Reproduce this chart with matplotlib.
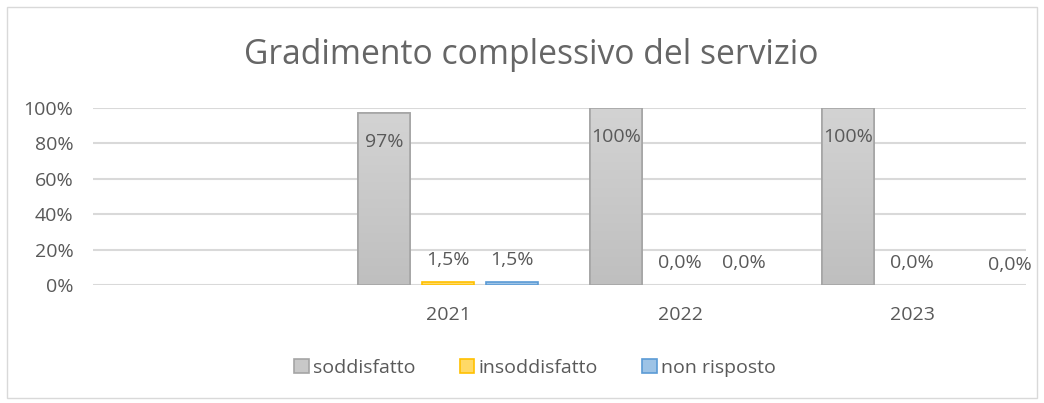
import matplotlib.pyplot as plt
import numpy as np
from matplotlib.colors import LinearSegmentedColormap
from matplotlib.patches import Rectangle

categories = ['', '2021', '2022', '2023']
series = ['soddisfatto', 'insoddisfatto', 'non risposto']
soddisfatto = [np.nan, 0.97, 1.00, 1.00]
insoddisfatto = [np.nan, 0.015, 0.0, 0.0]
non_risposto = [np.nan, 0.015, 0.0, 0.0]
labels_sodd = ['', '97%', '100%', '100%']
labels_ins = ['', '1,5%', '0,0%', '0,0%']
labels_non = ['', '1,5%', '0,0%', '0,0%']

plt.rcParams['font.family'] = ['Open Sans', 'DejaVu Sans']
txt = '#595959'

fig = plt.figure(figsize=(10.44, 4.03), dpi=100)
fig.patches.append(Rectangle((7/1044, 1-398/403), 1030/1044, 391/403, transform=fig.transFigure,
                             fill=False, edgecolor='#d9d9d9', linewidth=1))
ax = fig.add_axes([93/1044, 1-285/403, 933/1044, 177/403])

x = np.arange(len(categories))
w = 0.224
off = 0.276
b1 = ax.bar(x - off, soddisfatto, w, color='#c8c8c8', edgecolor='#a5a5a5', linewidth=1.2, zorder=2)
b2 = ax.bar(x, insoddisfatto, w, color='#ffd966', edgecolor='#ffc000', linewidth=1.2, zorder=2)
b3 = ax.bar(x + off, non_risposto, w, color='#9dc3e6', edgecolor='#5b9bd5', linewidth=1.2, zorder=2)
for bars in (b2, b3):
    for r in bars:
        if r.get_height() == 0:
            r.set_visible(False)

# gradient fill for the grey bars
cmap = LinearSegmentedColormap.from_list('g', ['#bfbfbf', '#d3d3d3'])
grad = np.linspace(0, 1, 100).reshape(-1, 1)
for r in b1:
    h = r.get_height()
    if np.isnan(h):
        continue
    im = ax.imshow(grad, extent=[r.get_x(), r.get_x() + r.get_width(), 0, h], origin='lower',
                   cmap=cmap, aspect='auto', zorder=2.5)
    im.set_clip_path(r)
    ax.add_patch(Rectangle((r.get_x(), 0), r.get_width(), h, fill=False,
                           edgecolor='#a5a5a5', linewidth=1.2, zorder=3))

for r, lab in zip(b1, labels_sodd):
    if lab:
        ax.annotate(lab, (r.get_x() + r.get_width() / 2, r.get_height()), xytext=(0, -29),
                    textcoords='offset pixels', ha='center', va='center', fontsize=14, color=txt, zorder=4)
for bars, labs in ((b2, labels_ins), (b3, labels_non)):
    for i, (r, lab) in enumerate(zip(bars, labs)):
        if lab:
            dx = 34 if (bars is b3 and i == 3) else 0
            dy = 22 if not (bars is b3 and i == 3) else 20
            ax.annotate(lab, (r.get_x() + r.get_width() / 2, r.get_height()), xytext=(dx, dy),
                        textcoords='offset pixels', ha='center', va='center', fontsize=14, color=txt, zorder=4)

ax.set_xlim(-0.53, 3.491)
ax.set_ylim(0, 1.0)
ax.set_yticks(np.arange(0, 1.01, 0.2))
ax.set_yticklabels([f'{int(round(v*100))}%' for v in np.arange(0, 1.01, 0.2)])
ax.set_xticks(x)
ax.set_xticklabels(categories)
ax.tick_params(axis='both', length=0, labelsize=14, colors=txt)
ax.tick_params(axis='x', pad=15)
ax.tick_params(axis='y', pad=14)
ax.grid(axis='y', color='#d9d9d9', linewidth=1.5, zorder=0)
ax.set_axisbelow(True)
for s in ax.spines.values():
    s.set_visible(False)

fig.text(531/1044, 1 - 55/403, 'Gradimento complessivo del servizio', ha='center', va='center',
         fontsize=24.2, color='#666666')

leg = fig.legend([b1, b2, b3], series, loc='center', bbox_to_anchor=(535/1044, 1 - 368/403), ncol=3,
                 frameon=False, fontsize=14, handlelength=0.75, handleheight=0.75, handletextpad=0.2,
                 columnspacing=2.3, labelcolor=txt)

fig.savefig('out.png', dpi=100)
